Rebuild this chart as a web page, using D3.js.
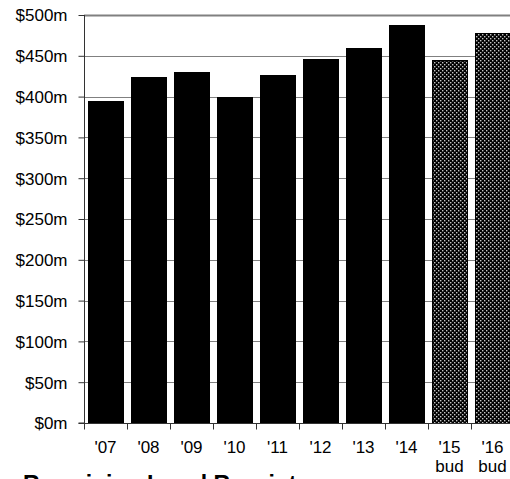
<!DOCTYPE html>
<html><head><meta charset="utf-8">
<script src="https://cdn.jsdelivr.net/npm/d3@7/dist/d3.min.js"></script>
<style>body{margin:0;background:#fff;overflow:hidden}svg{display:block}</style>
</head><body>
<svg id="c" width="510" height="479"></svg>
<script>
const categories = ["'07","'08","'09","'10","'11","'12","'13","'14","'15","'16"];
const subLabels = ["","","","","","","","","bud","bud"];
const values = [395,424,430,400,426,446,459,488,445,478];
const budget = [false,false,false,false,false,false,false,false,true,true];
const yTicks = [0,50,100,150,200,250,300,350,400,450,500];
const title = "Remaining Local Receipts";

const svg = d3.select("#c");
const W = 510, H = 479;
const m = {left:84, top:15, right:-4, bottom:56};
const x = d3.scaleBand().domain(categories).range([m.left, W - m.right]).paddingInner(0.19).paddingOuter(0.095);
const y = d3.scaleLinear().domain([0,500]).range([423, 15]);
const FONT = "Liberation Sans, Arial, sans-serif";

const defs = svg.append("defs");
const pat = defs.append("pattern").attr("id","dots").attr("patternUnits","userSpaceOnUse")
  .attr("width",4).attr("height",4);
pat.append("rect").attr("width",4).attr("height",4).attr("fill","#000");
pat.append("rect").attr("x",0).attr("y",0).attr("width",1.4).attr("height",1.4).attr("fill","#c4c4c4");
pat.append("rect").attr("x",2).attr("y",2).attr("width",1.4).attr("height",1.4).attr("fill","#c4c4c4");

// gridlines
svg.append("g").selectAll("line").data(yTicks.filter(d=>d>0)).join("line")
  .attr("x1",m.left).attr("x2",W).attr("y1",d=>Math.round(y(d))+0.5).attr("y2",d=>Math.round(y(d))+0.5)
  .attr("stroke","#808080").attr("stroke-width",d=>d===500?2:1);

// bars
svg.append("g").selectAll("rect").data(categories).join("rect")
  .attr("x",(d)=>Math.round(x(d))+0.5).attr("width",Math.round(x.bandwidth()))
  .attr("y",(d,i)=>Math.round(y(values[i]))+0.5).attr("height",(d,i)=>Math.round(y(0))-Math.round(y(values[i])))
  .attr("fill",(d,i)=>budget[i]?"url(#dots)":"#000").attr("stroke","#000").attr("stroke-width",1);

// y axis
const yAxis = d3.axisLeft(y).tickValues(yTicks).tickSize(6).tickFormat(d=>"$"+d+"m");
const ga = svg.append("g").attr("transform",`translate(${m.left+0.5},0)`).call(yAxis);
ga.select(".domain").attr("stroke","#333").attr("d",`M-6,${y(0)}H0V${y(500)}`);
ga.selectAll(".tick line").attr("stroke","#333");
ga.selectAll("text").attr("font-family",FONT).attr("font-size",17).attr("fill","#000").attr("x",-17).attr("dy","0.35em");

// x axis
const step = x.step();
const xa = svg.append("g").attr("transform",`translate(0,${Math.round(y(0))+0.5})`);
xa.append("line").attr("x1",m.left).attr("x2",W).attr("stroke","#333");
const bounds = d3.range(categories.length).map(i=>x(categories[i]) - (step-x.bandwidth())/2);
xa.selectAll("line.t").data(bounds).join("line").attr("class","t")
  .attr("x1",d=>Math.round(d)+0.5).attr("x2",d=>Math.round(d)+0.5).attr("y1",0).attr("y2",6).attr("stroke","#333");
xa.selectAll("text.l").data(categories).join("text").attr("class","l")
  .attr("x",d=>x(d)+x.bandwidth()/2).attr("y",29).attr("text-anchor","middle")
  .attr("font-family",FONT).attr("font-size",17).text(d=>d);
xa.selectAll("text.s").data(categories).join("text").attr("class","s")
  .attr("x",d=>x(d)+x.bandwidth()/2).attr("y",48.5).attr("text-anchor","middle")
  .attr("font-family",FONT).attr("font-size",17).text((d,i)=>subLabels[i]);

// title (cut off at bottom edge, as in the reference)
svg.append("text").attr("x",23).attr("y",492).attr("font-family",FONT)
  .attr("font-weight","bold").attr("font-size",23).text(title);
</script>
</body></html>
